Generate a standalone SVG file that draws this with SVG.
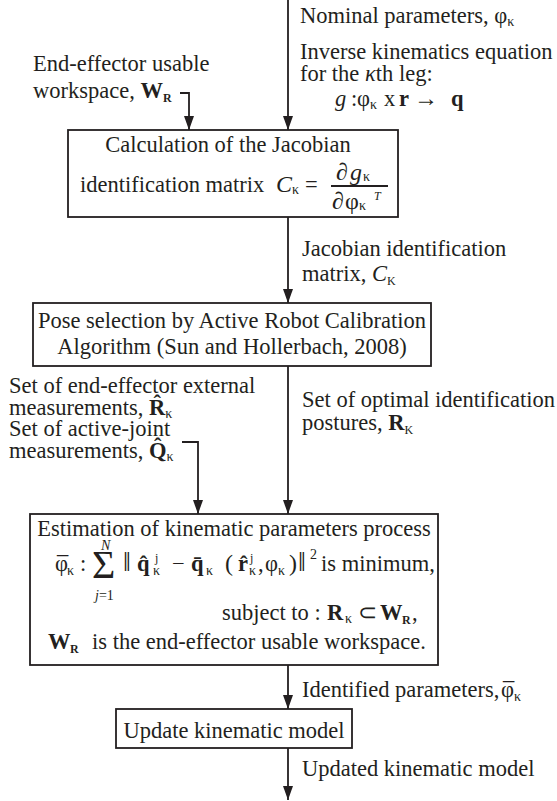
<svg xmlns="http://www.w3.org/2000/svg" width="557" height="801" viewBox="0 0 557 801">
<defs>
<style>
text{font-family:"Liberation Serif","Times New Roman",serif;font-size:22.5px;fill:#231f20}
.b{font-weight:bold}
.i{font-style:italic}
.sub{font-size:14px}
.sm{font-size:12px}
.big{font-size:40px}
.nrm{font-size:24px}
.dbl{font-size:28px}
.box{fill:#fff;stroke:#231f20;stroke-width:1.8}
.ln{stroke:#231f20;stroke-width:1.8;fill:none}
.arr{marker-end:url(#ah)}
</style>
<marker id="ah" markerUnits="userSpaceOnUse" markerWidth="14" markerHeight="10" viewBox="0 0 14 10" refX="14" refY="5" orient="auto">
<path d="M0,0 L14,5 L0,10 z" fill="#231f20"/>
</marker>
</defs>
<rect width="557" height="801" fill="#fff"/>

<g id="connectors">
<path class="ln arr" d="M288,0 V130"/>
<path class="ln arr" d="M180,93 H189 V130"/>
<path class="ln arr" d="M288,217 V303"/>
<path class="ln arr" d="M288,366 V514"/>
<path class="ln arr" d="M182,442 H198 V514"/>
<path class="ln arr" d="M288,665 V709"/>
<path class="ln arr" d="M288,748 V800"/>
</g>

<g id="labels">
<text x="300" y="23">Nominal parameters, φ<tspan class="sub" dy="3">κ</tspan></text>
<text x="300" y="59">Inverse kinematics equation</text>
<text x="300" y="81">for the <tspan class="i">κ</tspan>th leg:</text>
<text y="106"><tspan x="335" class="i">g</tspan><tspan x="351">:</tspan><tspan x="357">φ</tspan><tspan x="370" class="sub" dy="3">κ</tspan><tspan x="384" dy="-3">x</tspan><tspan x="399" class="b">r</tspan><tspan x="414" class="nrm">→</tspan><tspan x="451" class="b">q</tspan></text>
<text x="33" y="71">End-effector usable</text>
<text x="33" y="98">workspace, <tspan class="b">W</tspan><tspan class="b sm" dy="4">R</tspan></text>
<text x="302" y="256">Jacobian identification</text>
<text x="302" y="281">matrix, <tspan class="i">C</tspan><tspan class="sm" dy="4">K</tspan></text>
<text x="9" y="393">Set of end-effector external</text>
<text x="9" y="415">measurements, <tspan class="b">R̂</tspan><tspan class="sub" dy="3">κ</tspan></text>
<text x="9" y="436">Set of active-joint</text>
<text x="9" y="458">measurements, <tspan class="b">Q̂</tspan><tspan class="sub" dy="3">κ</tspan></text>
<text x="302" y="407">Set of optimal identification</text>
<text x="302" y="430">postures, <tspan class="b">R</tspan><tspan class="sm" dy="4">K</tspan></text>
<text x="302" y="697">Identified parameters,<tspan x="501">φ</tspan><tspan x="503" dy="2">¯</tspan><tspan x="514" class="sub" dy="2">κ</tspan></text>
<text x="302" y="776">Updated kinematic model</text>
</g>

<g id="jacobian">
<rect class="box" x="68" y="130" width="330" height="87"/>
<text x="228" y="152" text-anchor="middle">Calculation of the Jacobian</text>
<text x="80" y="192">identification matrix</text>
<text y="192"><tspan x="276" class="i nrm">C</tspan><tspan x="292" class="sub" dy="2">κ</tspan><tspan x="305" dy="-2">=</tspan></text>
<text y="180"><tspan x="336" class="nrm">∂</tspan><tspan x="350" class="i nrm">g</tspan><tspan x="363" class="sub" dy="1">κ</tspan></text>
<path class="ln" d="M331,186 H388" stroke-width="1.2"/>
<text y="209"><tspan x="332" class="nrm">∂</tspan><tspan x="345" class="nrm">φ</tspan><tspan x="359" class="sub" dy="1">κ</tspan><tspan x="374" class="i sm" dy="-10">T</tspan></text>
</g>

<g id="pose">
<rect class="box" x="33" y="303" width="398" height="63"/>
<text x="232" y="328" text-anchor="middle">Pose selection by Active Robot Calibration</text>
<text x="232" y="354" text-anchor="middle">Algorithm (Sun and Hollerbach, 2008)</text>
</g>

<g id="estimation">
<rect class="box" x="30" y="514" width="408" height="151"/>
<text x="234" y="536" text-anchor="middle">Estimation of kinematic parameters process</text>
<text y="571"><tspan x="55">φ</tspan><tspan x="57" dy="2">¯</tspan><tspan x="67" class="sub" dy="2">κ</tspan><tspan x="80" dy="-4">:</tspan></text>
<text x="92" y="578" class="big">Σ</text>
<text x="101" y="550" class="i sub">N</text>
<text x="95" y="600" class="sub"><tspan class="i">j</tspan>=1</text>
<text y="571"><tspan x="123" class="dbl">‖</tspan><tspan x="137" class="b">q̂</tspan><tspan x="155" class="sm" dy="-9">j</tspan><tspan x="153" class="sub" dy="13">κ</tspan><tspan x="172" dy="-4">−</tspan><tspan x="191" class="b">q̄</tspan><tspan x="206" class="sub" dy="4">κ</tspan><tspan x="225" dy="-4" class="nrm">(</tspan><tspan x="238" class="b">r̂</tspan><tspan x="250" class="sm" dy="-9">j</tspan><tspan x="249" class="sub" dy="13">κ</tspan><tspan x="258" dy="-4">,</tspan><tspan x="265">φ</tspan><tspan x="278" class="sub" dy="4">κ</tspan><tspan x="289" dy="-4" class="nrm">)</tspan><tspan x="298" class="dbl">‖</tspan><tspan x="310" class="sub" dy="-12">2</tspan><tspan x="321" dy="12">is minimum,</tspan></text>
<text y="620"><tspan x="222">subject to :</tspan><tspan x="327" class="b">R</tspan><tspan x="345" class="sub" dy="3">κ</tspan><tspan x="358" dy="-3">⊂</tspan><tspan x="380" class="b">W</tspan><tspan x="402" class="b sm" dy="4">R</tspan><tspan x="412" dy="-4">,</tspan></text>
<text y="649"><tspan x="48" class="b">W</tspan><tspan x="70" class="b sm" dy="4">R</tspan><tspan x="92" dy="-4">is the end-effector usable workspace.</tspan></text>
</g>

<g id="update">
<rect class="box" x="116" y="709" width="236" height="39"/>
<text x="234" y="738" text-anchor="middle">Update kinematic model</text>
</g>
</svg>
